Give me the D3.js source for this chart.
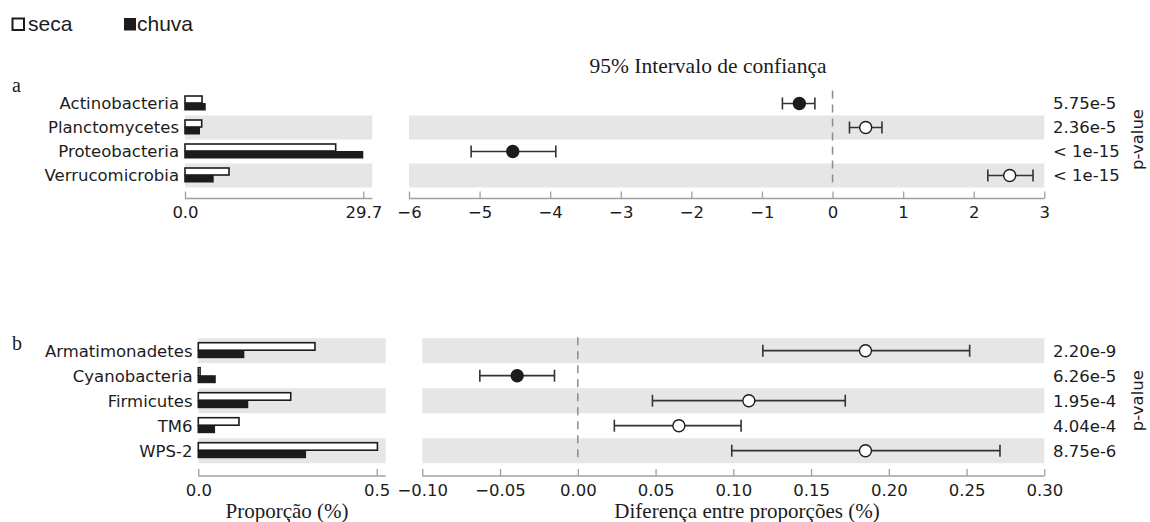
<!DOCTYPE html>
<html>
<head>
<meta charset="utf-8">
<script src="https://cdn.jsdelivr.net/npm/d3@7"></script>
<style>
  html, body { margin: 0; padding: 0; background: #fff; }
  svg { display: block; }
</style>
</head>
<body>
<svg id="chart" width="1150" height="522"></svg>
<script>
// ---- Panel a: phyla ----
const taxaA = ["Actinobacteria", "Planctomycetes", "Proteobacteria", "Verrucomicrobia"];
const secaA = [2.84, 2.78, 25.1, 7.33];
const chuvaA = [3.45, 2.50, 29.7, 4.78];
const diffA = [-0.47, 0.47, -4.53, 2.51];
const ciLowA = [-0.71, 0.24, -5.12, 2.20];
const ciHighA = [-0.25, 0.70, -3.92, 2.84];
const pvalA = ["5.75e-5", "2.36e-5", "< 1e-15", "< 1e-15"];
const propTicksA = [0, 29.7];
const diffTicksA = [-6, -5, -4, -3, -2, -1, 0, 1, 2, 3];

// ---- Panel b: less abundant phyla ----
const taxaB = ["Armatimonadetes", "Cyanobacteria", "Firmicutes", "TM6", "WPS-2"];
const secaB = [0.327, 0.005, 0.259, 0.114, 0.502];
const chuvaB = [0.129, 0.049, 0.140, 0.047, 0.302];
const diffB = [0.185, -0.039, 0.110, 0.065, 0.185];
const ciLowB = [0.119, -0.063, 0.048, 0.0235, 0.099];
const ciHighB = [0.252, -0.015, 0.172, 0.105, 0.2715];
const pvalB = ["2.20e-9", "6.26e-5", "1.95e-4", "4.04e-4", "8.75e-6"];
const propTicksB = [0, 0.5];
const diffTicksB = [-0.10, -0.05, 0.00, 0.05, 0.10, 0.15, 0.20, 0.25, 0.30];

const SANS = "'DejaVu Sans', sans-serif";
const SERIF = "'Liberation Serif', 'Times New Roman', serif";
const FS = 16.5;
const BAND = "#e6e6e6";
const AXIS = "#a0a0a0";
const INK = "#1c1c1c";

const svg = d3.select("#chart");

// legend
const legend = svg.append("g").attr("font-family", "'Liberation Sans', Arial, sans-serif").attr("font-size", 21).attr("fill", INK);
legend.append("rect").attr("x", 12.5).attr("y", 18.5).attr("width", 11.5).attr("height", 11.5)
  .attr("fill", "#fff").attr("stroke", INK).attr("stroke-width", 2);
legend.append("text").attr("x", 28).attr("y", 31).text("seca");
legend.append("rect").attr("x", 124).attr("y", 18).attr("width", 12).attr("height", 12.5).attr("fill", INK);
legend.append("text").attr("x", 137).attr("y", 31).text("chuva");

svg.append("text").attr("x", 708).attr("y", 72.5).attr("text-anchor", "middle")
  .attr("font-family", SERIF).attr("font-size", 21.5).attr("fill", INK)
  .text("95% Intervalo de confiança");

function panel(cfg) {
  const g = svg.append("g");
  const n = cfg.taxa.length;
  const y = d3.scaleBand().domain(d3.range(n)).range([cfg.top, cfg.top + cfg.rowH * n]);
  const cy = i => y(i) + y.bandwidth() / 2;
  const xProp = d3.scaleLinear().domain(cfg.propDomain).range(cfg.propRange);
  const xDiff = d3.scaleLinear().domain(cfg.diffDomain).range(cfg.diffRange);
  const propEnd = cfg.propRange[1] + 9;

  // alternating background bands, counted from the bottom row
  const banded = d3.range(n).filter(i => (n - 1 - i) % 2 === 0);
  g.selectAll(".bandL").data(banded).join("rect")
    .attr("x", cfg.propRange[0]).attr("width", propEnd - cfg.propRange[0])
    .attr("y", i => y(i)).attr("height", y.bandwidth()).attr("fill", BAND);
  g.selectAll(".bandR").data(banded).join("rect")
    .attr("x", cfg.diffRange[0]).attr("width", cfg.diffRange[1] - cfg.diffRange[0])
    .attr("y", i => y(i)).attr("height", y.bandwidth()).attr("fill", BAND);

  // category labels
  g.selectAll(".lab").data(cfg.taxa).join("text")
    .attr("x", cfg.labelX).attr("y", (d, i) => cy(i)).attr("dy", "0.36em")
    .attr("text-anchor", "end").attr("font-family", SANS).attr("font-size", FS).attr("fill", INK)
    .text(d => d);

  // proportion bars
  const bh = cfg.barH;
  g.selectAll(".barS").data(cfg.seca).join("rect")
    .attr("x", xProp(0)).attr("y", (d, i) => cy(i) - bh - 0.5)
    .attr("width", d => xProp(d) - xProp(0)).attr("height", bh)
    .attr("fill", "#fff").attr("stroke", INK).attr("stroke-width", 1.6);
  g.selectAll(".barC").data(cfg.chuva).join("rect")
    .attr("x", xProp(0) - 0.8).attr("y", (d, i) => cy(i) - 0.5)
    .attr("width", d => xProp(d) - xProp(0) + 0.8).attr("height", bh + 0.5)
    .attr("fill", INK);

  // zero reference line
  g.append("line").attr("x1", xDiff(0)).attr("x2", xDiff(0))
    .attr("y1", cfg.top - 1).attr("y2", cfg.top + cfg.rowH * n)
    .attr("stroke", "#8c8c8c").attr("stroke-width", 1.5).attr("stroke-dasharray", "8,6");

  // confidence intervals
  const cap = 6;
  const ci = g.selectAll(".ci").data(cfg.diff).join("g");
  ci.append("line").attr("x1", (d, i) => xDiff(cfg.ciLow[i])).attr("x2", (d, i) => xDiff(cfg.ciHigh[i]))
    .attr("y1", (d, i) => cy(i)).attr("y2", (d, i) => cy(i)).attr("stroke", "#333").attr("stroke-width", 1.7);
  ci.append("line").attr("x1", (d, i) => xDiff(cfg.ciLow[i])).attr("x2", (d, i) => xDiff(cfg.ciLow[i]))
    .attr("y1", (d, i) => cy(i) - cap).attr("y2", (d, i) => cy(i) + cap).attr("stroke", "#333").attr("stroke-width", 1.6);
  ci.append("line").attr("x1", (d, i) => xDiff(cfg.ciHigh[i])).attr("x2", (d, i) => xDiff(cfg.ciHigh[i]))
    .attr("y1", (d, i) => cy(i) - cap).attr("y2", (d, i) => cy(i) + cap).attr("stroke", "#333").attr("stroke-width", 1.6);
  ci.append("circle").attr("cx", d => xDiff(d)).attr("cy", (d, i) => cy(i)).attr("r", 6)
    .attr("fill", d => d > 0 ? "#fff" : INK).attr("stroke", INK).attr("stroke-width", 1.4);

  // p-values
  g.selectAll(".pv").data(cfg.pvals).join("text")
    .attr("x", 1053).attr("y", (d, i) => cy(i)).attr("dy", "0.36em")
    .attr("font-family", SANS).attr("font-size", FS).attr("fill", INK).text(d => d);
  const pMid = cfg.top + cfg.rowH * n / 2;
  g.append("text").attr("transform", `translate(1143,${pMid}) rotate(-90)`)
    .attr("text-anchor", "middle").attr("font-family", SANS).attr("font-size", FS).attr("fill", INK)
    .text("p-value");

  // axes: ticks point up into the plot, baseline spans the band width
  function axis(scale, ticks, fmt, x0, x1) {
    const a = g.append("g").attr("transform", `translate(0,${cfg.axisY})`)
      .call(d3.axisBottom(scale).tickValues(ticks).tickFormat(fmt).tickSizeInner(-7).tickSizeOuter(0).tickPadding(8));
    a.select(".domain").remove();
    a.selectAll(".tick line").attr("stroke", AXIS).attr("stroke-width", 1.3);
    a.selectAll(".tick text").attr("font-family", SANS).attr("font-size", FS).attr("fill", INK);
    a.append("line").attr("x1", x0).attr("x2", x1).attr("stroke", AXIS).attr("stroke-width", 1.5);
  }
  axis(xProp, cfg.propTicks, d3.format(".1f"), cfg.propRange[0], propEnd);
  axis(xDiff, cfg.diffTicks, cfg.diffFmt, cfg.diffRange[0], cfg.diffRange[1]);

  // panel letter
  svg.append("text").attr("x", 12).attr("y", cfg.letterY).attr("font-family", SERIF)
    .attr("font-size", 20).attr("fill", INK).text(cfg.letter);
}

panel({
  letter: "a", letterY: 92,
  taxa: taxaA, seca: secaA, chuva: chuvaA, diff: diffA, ciLow: ciLowA, ciHigh: ciHighA, pvals: pvalA,
  top: 91.5, rowH: 24, barH: 7, axisY: 198.5, labelX: 179,
  propDomain: [0, 29.7], propRange: [185, 363.3], propTicks: propTicksA,
  diffDomain: [-6, 3], diffRange: [409, 1044.3], diffTicks: diffTicksA, diffFmt: d3.format("d")
});

panel({
  letter: "b", letterY: 350,
  taxa: taxaB, seca: secaB, chuva: chuvaB, diff: diffB, ciLow: ciLowB, ciHigh: ciHighB, pvals: pvalB,
  top: 338.2, rowH: 25, barH: 7.5, axisY: 476, labelX: 192.5,
  propDomain: [0, 0.5], propRange: [198.3, 376.7], propTicks: propTicksB,
  diffDomain: [-0.10, 0.30], diffRange: [422.3, 1044.3], diffTicks: diffTicksB, diffFmt: d3.format(".2f")
});

// axis titles
svg.append("text").attr("x", 287).attr("y", 518).attr("text-anchor", "middle")
  .attr("font-family", SERIF).attr("font-size", 21).attr("fill", INK).text("Proporção (%)");
svg.append("text").attr("x", 747).attr("y", 518).attr("text-anchor", "middle")
  .attr("font-family", SERIF).attr("font-size", 21).attr("fill", INK).text("Diferença entre proporções (%)");
</script>
</body>
</html>
